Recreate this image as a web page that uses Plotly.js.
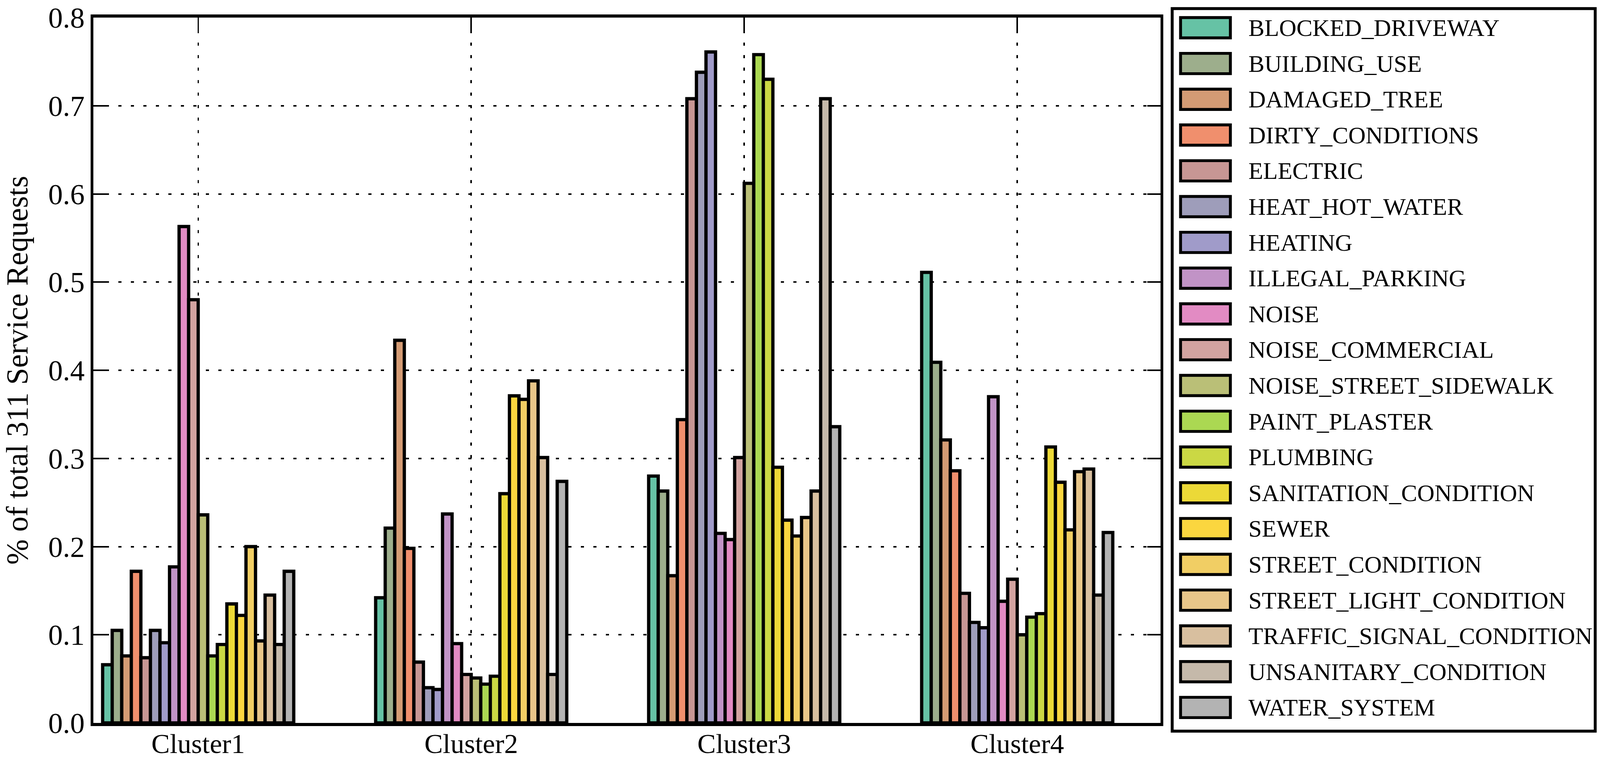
<!DOCTYPE html>
<html>
<head>
<meta charset="utf-8">
<script src="https://cdn.plot.ly/plotly-3.0.1.min.js"></script>
<style>
  html, body { margin: 0; padding: 0; background: #fff; overflow: hidden; }
  #chart { position: absolute; left: 0; top: 0; }
</style>
</head>
<body>
<div id="chart"></div>
<script>
// values, one array per cluster, in complaint-type order
const clusters = ['Cluster1', 'Cluster2', 'Cluster3', 'Cluster4'];
const complaintTypes = [
  'BLOCKED_DRIVEWAY', 'BUILDING_USE', 'DAMAGED_TREE', 'DIRTY_CONDITIONS',
  'ELECTRIC', 'HEAT_HOT_WATER', 'HEATING', 'ILLEGAL_PARKING', 'NOISE',
  'NOISE_COMMERCIAL', 'NOISE_STREET_SIDEWALK', 'PAINT_PLASTER', 'PLUMBING',
  'SANITATION_CONDITION', 'SEWER', 'STREET_CONDITION', 'STREET_LIGHT_CONDITION',
  'TRAFFIC_SIGNAL_CONDITION', 'UNSANITARY_CONDITION', 'WATER_SYSTEM'
];
const cluster1 = [0.066, 0.105, 0.076, 0.172, 0.074, 0.105, 0.091, 0.177, 0.563, 0.480,
                  0.236, 0.076, 0.089, 0.135, 0.122, 0.200, 0.093, 0.145, 0.089, 0.172];
const cluster2 = [0.142, 0.221, 0.434, 0.198, 0.069, 0.040, 0.038, 0.237, 0.090, 0.055,
                  0.051, 0.044, 0.053, 0.260, 0.371, 0.367, 0.388, 0.301, 0.055, 0.274];
const cluster3 = [0.280, 0.263, 0.167, 0.344, 0.708, 0.738, 0.761, 0.215, 0.208, 0.301,
                  0.612, 0.758, 0.730, 0.290, 0.230, 0.212, 0.233, 0.263, 0.708, 0.336];
const cluster4 = [0.511, 0.409, 0.321, 0.286, 0.147, 0.114, 0.108, 0.370, 0.138, 0.163,
                  0.100, 0.120, 0.124, 0.313, 0.273, 0.219, 0.285, 0.288, 0.145, 0.216];
const yTicks = [0, 0.1, 0.2, 0.3, 0.4, 0.5, 0.6, 0.7, 0.8];

const colors = [
  '#66c2a5', '#9dae8c', '#d49b74', '#f08f6d', '#c79694', '#9e9dba', '#a09bc9',
  '#c193c6', '#e28bc3', '#d2a3a0', '#babf77', '#abd852', '#cbd844', '#ecd937',
  '#fbd63f', '#f1ce64', '#e8c689', '#d8bf9f', '#c5b9aa', '#b3b3b3'
];

const serif = 'Liberation Serif, Times New Roman, serif';
const clusterValues = [cluster1, cluster2, cluster3, cluster4];

// layout numbers are for a 4400x1951 page; the window can be narrower,
// so stretch x and y separately to fill it
const W = window.innerWidth || 4400, H = window.innerHeight || 1951;
const sx = W / 4400, sy = H / 1951;
const fs = sx;                      // font scale (keeps text widths in proportion)
const plotL = 257 * sx, plotR = 3191 * sx, plotT = 45 * sy, plotB = 1851 * sy;
const px2x = px => (px * sx - plotL) / (plotR - plotL);
const py2y = py => (plotB - py * sy) / (plotB - plotT);

const traces = complaintTypes.map((name, i) => ({
  type: 'bar',
  name: name,
  x: clusters,
  y: clusterValues.map(c => c[i]),
  marker: { color: colors[i], line: { color: '#000', width: 9 * sx } },
  hoverinfo: 'x+y+name'
}));

// hand-made legend: big swatches like the original
const shapes = [{
  type: 'rect', xref: 'paper', yref: 'paper',
  x0: px2x(3223), x1: px2x(4386), y0: py2y(1872), y1: py2y(22),
  line: { color: '#000', width: 8 * sx }, fillcolor: '#fff', layer: 'above'
}];
const annotations = [];
const rowY0 = 71, rowStep = 91.6;
complaintTypes.forEach((name, i) => {
  const cy = rowY0 + i * rowStep;
  shapes.push({
    type: 'rect', xref: 'paper', yref: 'paper',
    x0: px2x(3246), x1: px2x(3383), y0: py2y(cy + 26), y1: py2y(cy - 26),
    line: { color: '#000', width: 8 * sx }, fillcolor: colors[i], layer: 'above'
  });
  annotations.push({
    xref: 'paper', yref: 'paper', x: px2x(3431), y: py2y(cy),
    xanchor: 'left', yanchor: 'middle', showarrow: false,
    text: name, font: { family: serif, size: 66 * fs, color: '#000' }
  });
});

const gridDash = (8 * sy) + 'px,' + (24 * sy) + 'px';
const layout = {
  width: W, height: H,
  margin: { l: plotL, r: W - plotR, t: plotT, b: H - plotB, pad: 0 },
  paper_bgcolor: '#fff', plot_bgcolor: '#fff',
  barmode: 'group', bargap: 0.3, bargroupgap: 0,
  showlegend: false,
  font: { family: serif, color: '#000' },
  xaxis: {
    type: 'category', range: [-0.384, 3.525],
    showline: true, linecolor: '#000', linewidth: 8 * sy, mirror: 'ticks',
    ticks: 'inside', ticklen: 37 * sy, tickwidth: 4 * sx, tickcolor: '#000',
    showgrid: true, gridcolor: '#000', gridwidth: 4 * sx, griddash: gridDash,
    tickfont: { family: serif, size: 76 * fs, color: '#000' },
    ticklabelstandoff: -16,
    zeroline: false
  },
  yaxis: {
    range: [0, 0.8], tickvals: yTicks, tickformat: '.1f',
    showline: true, linecolor: '#000', linewidth: 8 * sx, mirror: 'ticks',
    ticks: 'inside', ticklen: 37 * sx, tickwidth: 4 * sy, tickcolor: '#000',
    showgrid: true, gridcolor: '#000', gridwidth: 4 * sy, griddash: gridDash,
    tickfont: { family: serif, size: 80 * fs, color: '#000' },
    ticklabelstandoff: 34 * sx,
    zeroline: false,
    title: { text: '% of total 311 Service Requests', standoff: 36 * sx,
             font: { family: serif, size: 78 * sy, color: '#000' } }
  },
  shapes: shapes,
  annotations: annotations
};

Plotly.newPlot('chart', traces, layout, { displayModeBar: false, staticPlot: true });
</script>
</body>
</html>
